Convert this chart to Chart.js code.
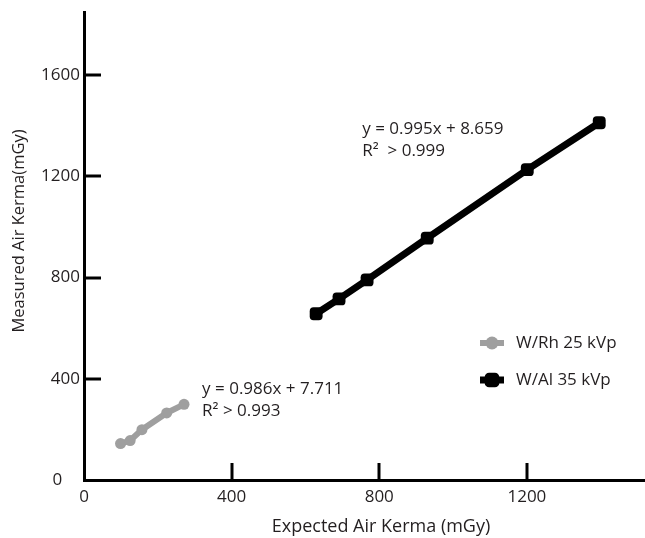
<!DOCTYPE html>
<html>
<head>
<meta charset="utf-8">
<script src="https://cdn.jsdelivr.net/npm/chart.js@4.4.1/dist/chart.umd.min.js"></script>
<style>
  html, body { margin: 0; padding: 0; background: #fff; }
  #wrap { width: 645px; height: 538px; }
</style>
</head>
<body>
<div id="wrap"><canvas id="chart"></canvas></div>
<script>
// values
const rhExpected = [99, 125, 157, 224, 271];
const rhMeasured = [144, 156, 199, 265, 299];
const alExpected = [629, 691, 767, 930, 1201, 1396];
const alMeasured = [657, 716, 791, 956, 1227, 1412];
const xTicks = [0, 400, 800, 1200];
const yTicks = [0, 400, 800, 1200, 1600];
const xTitle = "Expected Air Kerma (mGy)";
const yTitle = "Measured Air Kerma(mGy)";

const FONT = "'Open Sans', 'Noto Sans', sans-serif";
const INK = "#231f20";

function pts(xs, ys) {
  return xs.map((x, i) => ({ x: x, y: ys[i] }));
}

// equations next to each series, anchored in data units
const notes = [
  { x: 754, y: 1385, text: "y = 0.995x + 8.659" },
  { x: 754, y: 1298, text: "R\u00B2  > 0.999" },
  { x: 320, y: 358, text: "y = 0.986x + 7.711" },
  { x: 320, y: 271, text: "R\u00B2 > 0.993" }
];

// tick marks point into the plot, no tick at the corner
const extras = {
  id: "extras",
  afterDatasetsDraw(chart) {
    const ctx = chart.ctx;
    const xs = chart.scales.x, ys = chart.scales.y;
    const area = chart.chartArea;
    ctx.save();
    ctx.strokeStyle = "#000";
    ctx.lineWidth = 3;
    xTicks.forEach(v => {
      if (v === 0) return;
      const px = Math.round(xs.getPixelForValue(v));
      ctx.beginPath();
      ctx.moveTo(px, area.bottom);
      ctx.lineTo(px, area.bottom - 17);
      ctx.stroke();
    });
    yTicks.forEach(v => {
      if (v === 0) return;
      const py = Math.round(ys.getPixelForValue(v));
      ctx.beginPath();
      ctx.moveTo(area.left, py);
      ctx.lineTo(area.left + 17, py);
      ctx.stroke();
    });

    ctx.fillStyle = INK;
    ctx.font = "17px " + FONT;
    ctx.textBaseline = "middle";
    ctx.textAlign = "left";
    notes.forEach(n => {
      ctx.fillText(n.text, xs.getPixelForValue(n.x), ys.getPixelForValue(n.y));
    });

    // axis titles
    ctx.textAlign = "center";
    ctx.font = "18px " + FONT;
    ctx.fillText(xTitle, 381, 527);
    ctx.save();
    ctx.translate(19, 231);
    ctx.rotate(-Math.PI / 2);
    ctx.font = "16.5px " + FONT;
    ctx.fillText(yTitle, 0, 0);
    ctx.restore();

    // legend
    ctx.textAlign = "left";
    const rows = [
      { ds: chart.data.datasets[0], y: 343 },
      { ds: chart.data.datasets[1], y: 380 }
    ];
    rows.forEach(r => {
      ctx.strokeStyle = r.ds.borderColor;
      ctx.lineWidth = r.ds.borderWidth;
      ctx.beginPath();
      ctx.moveTo(480, r.y);
      ctx.lineTo(504, r.y);
      ctx.stroke();
      ctx.fillStyle = r.ds.backgroundColor;
      Chart.helpers.drawPoint(ctx, {
        pointStyle: r.ds.pointStyle,
        radius: r.ds.pointRadius + 1,
        borderWidth: 0
      }, 492, r.y);
      ctx.fillStyle = INK;
      ctx.font = "17px " + FONT;
      ctx.fillText(r.ds.label, 516, r.y);
    });
    ctx.restore();
  }
};

new Chart(document.getElementById("chart"), {
  type: "scatter",
  data: {
    datasets: [
      {
        label: "W/Rh 25 kVp",
        data: pts(rhExpected, rhMeasured),
        showLine: true,
        borderColor: "#9f9f9f",
        backgroundColor: "#9f9f9f",
        borderWidth: 6,
        pointStyle: "circle",
        pointRadius: 5.5,
        pointBorderWidth: 0
      },
      {
        label: "W/Al 35 kVp",
        data: pts(alExpected, alMeasured),
        showLine: true,
        borderColor: "#000",
        backgroundColor: "#000",
        borderWidth: 7,
        pointStyle: "rectRounded",
        pointRadius: 7.5,
        pointBorderWidth: 0
      }
    ]
  },
  options: {
    responsive: true,
    maintainAspectRatio: false,
    animation: false,
    layout: { autoPadding: false, padding: { top: 12, right: 0, left: 0, bottom: 0 } },
    plugins: {
      legend: { display: false },
      tooltip: { enabled: false }
    },
    scales: {
      x: {
        type: "linear",
        min: 0,
        max: 1520,
        afterFit(scale) {
          scale.height = 58;
          scale.paddingLeft = 0;
          scale.paddingRight = 0;
        },
        afterBuildTicks(scale) { scale.ticks = xTicks.map(v => ({ value: v })); },
        grid: { display: false, drawTicks: false },
        border: { color: "#000", width: 3 },
        ticks: {
          color: INK,
          padding: 7,
          callback: v => String(v),
          font: { family: FONT, size: 17 }
        }
      },
      y: {
        type: "linear",
        min: 0,
        max: 1850,
        afterFit(scale) {
          scale.width = 84;
          scale.paddingTop = 0;
          scale.paddingBottom = 0;
        },
        afterBuildTicks(scale) { scale.ticks = yTicks.map(v => ({ value: v })); },
        grid: { display: false, drawTicks: false },
        border: { color: "#000", width: 3 },
        ticks: {
          color: INK,
          padding: 4,
          // the corner "0" sits further left, clear of the x axis "0"
          callback: v => (v === 0 ? "0    " : String(v)),
          font: { family: FONT, size: 17 }
        }
      }
    }
  },
  plugins: [extras]
});
</script>
</body>
</html>
